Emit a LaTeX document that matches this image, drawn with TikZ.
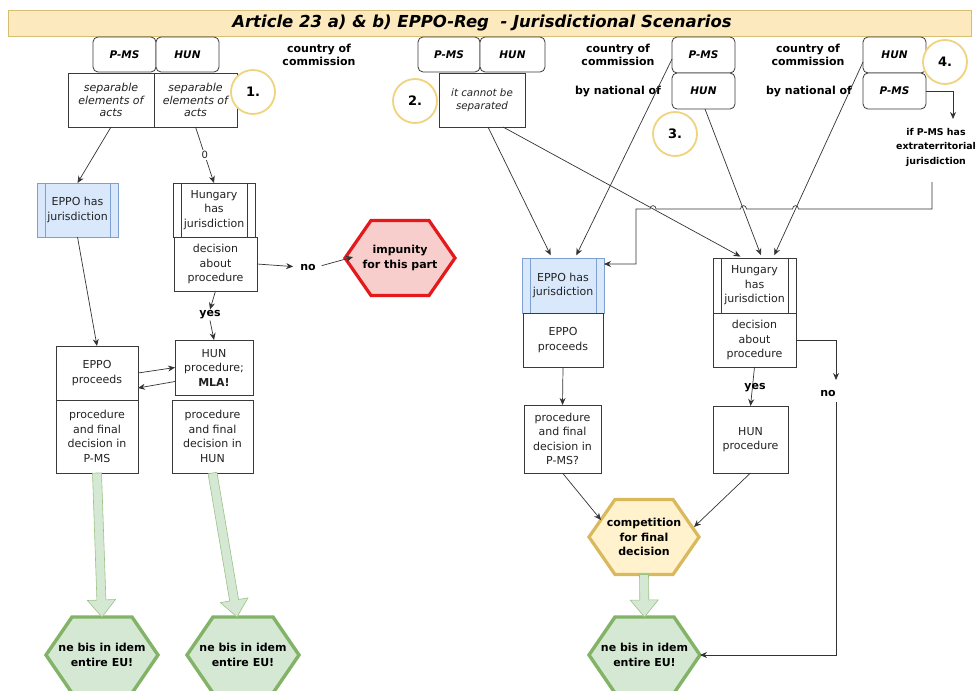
\documentclass[tikz,border=0pt]{standalone}
\usepackage{fontspec}
\setmainfont{DejaVu Sans}
\usetikzlibrary{arrows.meta,calc,backgrounds}
\definecolor{boxc}{HTML}{3A3A3A}
\definecolor{linec}{HTML}{333333}
\definecolor{txt}{HTML}{222222}
\definecolor{bluef}{HTML}{DAE8FC}
\definecolor{blueb}{HTML}{7EA0D0}
\definecolor{redf}{HTML}{F8CECC}
\definecolor{redb}{HTML}{E3191C}
\definecolor{goldf}{HTML}{FFF2CC}
\definecolor{goldb}{HTML}{D9B95C}
\definecolor{greenf}{HTML}{D5E8D4}
\definecolor{greenb}{HTML}{82B366}
\definecolor{circc}{HTML}{F0D37E}
\definecolor{titlef}{HTML}{FCE9BE}
\definecolor{titleb}{HTML}{D8BE72}
\newcommand\blockarr[2]{%
  \coordinate (bah) at ($(#2)!17pt!(#1)$);
  \draw[blk] ($(#1)!4.5pt!90:(#2)$) -- ($(bah)!4.5pt!90:(#2)$) -- ($(bah)!14pt!90:(#2)$) -- (#2)
    -- ($(bah)!14pt!-90:(#2)$) -- ($(bah)!4.5pt!-90:(#2)$) -- ($(#1)!4.5pt!-90:(#2)$) -- cycle;}
\begin{document}
\begin{tikzpicture}[x=1pt,y=-1pt,
  box/.style={draw=boxc, line width=0.8pt, fill=white, align=center, inner sep=0pt, outer sep=0pt,
    text=txt, font=\fontsize{11}{14.5}\selectfont},
  tab/.style={box, rounded corners=5pt, text=black, font=\fontsize{10.5}{13}\selectfont\bfseries\itshape},
  proc/.style={box, path picture={\draw[#1, line width=0.8pt]
      ([xshift=8pt]path picture bounding box.north west) -- ([xshift=8pt]path picture bounding box.south west)
      ([xshift=-8pt]path picture bounding box.north east) -- ([xshift=-8pt]path picture bounding box.south east);}},
  proc/.default=boxc,
  bluep/.style={proc=blueb, draw=blueb, fill=bluef},
  ital/.style={font=\fontsize{11}{12.5}\selectfont\itshape},
  lbl/.style={inner sep=1pt, align=center, text=black, font=\fontsize{11}{13.5}\selectfont\bfseries},
  num/.style={circle, draw=circc, line width=1.8pt, fill=white, minimum size=44pt, inner sep=0pt,
    text=black, font=\fontsize{13}{14}\selectfont\bfseries},
  hexn/.style={inner sep=0pt, outer sep=0pt, align=center, text=black, font=\fontsize{11}{14.5}\selectfont\bfseries},
  arr/.style={draw=linec, line width=0.7pt, -{Stealth[length=7pt,width=6pt]}},
  ln/.style={draw=linec, line width=0.7pt},
  blk/.style={draw=greenb!80, line width=0.6pt, fill=greenf},
  hexgreen/.style={draw=greenb, line width=3.4pt, fill=greenf, line join=miter},
  hexred/.style={draw=redb, line width=3.2pt, fill=redf, line join=miter},
  hexgold/.style={draw=goldb, line width=3.2pt, fill=goldf, line join=miter}
]
\useasboundingbox (0,0) rectangle (976,690);

% title
\node[draw=titleb, line width=0.6pt, fill=titlef, minimum width=963pt, minimum height=26pt, inner sep=0pt] (bar) at (489.5,23) {};
\node[inner sep=0pt, text=black, font=\fontsize{16.5}{18}\selectfont\bfseries\itshape] (ttl) at (482,23) {Article 23 a) \& b) EPPO-Reg\ \ - Jurisdictional Scenarios};

% ---------- left scenario ----------
\node[tab, minimum width=63pt, minimum height=35pt] (lpms) at (124.5,54.5) {P-MS};
\node[tab, minimum width=63pt, minimum height=35pt] (lhun) at (187.5,54.5) {HUN};
\node[lbl] (lcc) at (319,55) {country of\\commission};
\node[box, ital, minimum width=86pt, minimum height=54pt] (lsep1) at (111,100) {separable\\elements of\\acts};
\node[box, ital, minimum width=83pt, minimum height=54pt] (lsep2) at (195.5,100) {separable\\elements of\\acts};
\node[num] (c1) at (253,92) {1.};

\node[bluep, minimum width=81pt, minimum height=54pt] (lejur) at (77.5,210) {EPPO has\\jurisdiction};
\node[proc, minimum width=82pt, minimum height=54pt] (lhjur) at (214,210) {Hungary\\has\\jurisdiction};
\node[box, minimum width=83pt, minimum height=54pt] (ldec) at (215.5,264) {decision\\about\\procedure};
\node[lbl] (lno) at (308,267) {no};
\node[hexn, minimum width=110pt, minimum height=75pt] (limp) at (400,258) {impunity\\for this part};
\node[lbl] (lyes) at (210,315) {yes};
\node[box, minimum width=78pt, minimum height=55pt] (lhunp) at (214,367.5) {HUN\\procedure;\\\textbf{MLA!}};
\node[box, minimum width=82pt, minimum height=54pt] (lepp) at (97,373) {EPPO\\proceeds};
\node[box, minimum width=82pt, minimum height=73pt] (lppms) at (97,436.5) {procedure\\and final\\decision in\\P-MS};
\node[box, minimum width=81pt, minimum height=73pt] (lphun) at (212.5,436.5) {procedure\\and final\\decision in\\HUN};
\node[hexn, minimum width=112pt, minimum height=76pt] (lnb1) at (102,655) {ne bis in idem\\entire EU!};
\node[hexn, minimum width=112pt, minimum height=76pt] (lnb2) at (243,655) {ne bis in idem\\entire EU!};

\draw[arr] (lsep1.south) -- (lejur.north);
\draw[arr] (lsep2.south) -- node[fill=white, inner sep=1pt, text=txt, font=\fontsize{10}{12}\selectfont] (lzero) {0} (lhjur.north);
\draw[arr] (lejur.south) -- (lepp.north);
\draw[arr] (ldec.south) -- (lyes.north);
\draw[arr] (lyes.south) -- (lhunp.north);
\draw[arr, shorten >=6pt] (ldec.east) -- (lno.west);
\coordinate (limpin) at ($(limp.west)+(8,-1)$);
\draw[arr, shorten <=5pt] (lno.east) -- (limpin);
\draw[arr] (lepp.east) -- (lhunp.west);
\coordinate (lhunpout) at ($(lhunp.west)+(0,14)$);
\coordinate (leppin) at ($(lepp.east)+(0,15)$);
\draw[arr] (lhunpout) -- (leppin);
\coordinate (lnb2in) at ($(lnb2.north)+(-6,0)$);
\blockarr{lppms.south}{lnb1.north}
\blockarr{lphun.south}{lnb2in}

% ---------- right scenarios ----------
\node[tab, minimum width=62pt, minimum height=35pt] (rpms) at (449,54.5) {P-MS};
\node[tab, minimum width=65pt, minimum height=35pt] (rhun) at (512.5,54.5) {HUN};
\node[box, minimum width=86pt, minimum height=54pt, font=\fontsize{10.3}{12.5}\selectfont\itshape] (rsep) at (482,100) {it cannot be\\separated};
\node[num] (c2) at (415,101) {2.};

\node[lbl] (rcc1) at (618,55) {country of\\commission};
\node[lbl] (rbn1) at (618,92) {by national of};
\node[tab, minimum width=63pt, minimum height=36pt] (r3pms) at (703.5,55) {P-MS};
\node[tab, minimum width=63pt, minimum height=36pt] (r3hun) at (703.5,91) {HUN};
\node[num] (c3) at (675,134) {3.};

\node[lbl] (rcc2) at (808,55) {country of\\commission};
\node[lbl] (rbn2) at (809,92) {by national of};
\node[tab, minimum width=63pt, minimum height=36pt] (r4hun) at (894.5,55) {HUN};
\node[tab, minimum width=63pt, minimum height=36pt] (r4pms) at (894.5,91) {P-MS};
\node[num] (c4) at (945,62) {4.};
\node[lbl, font=\fontsize{9.4}{14.5}\selectfont\bfseries] (rext) at (936,147) {if P-MS has\\extraterritorial\\jurisdiction};

\node[bluep, minimum width=82pt, minimum height=55pt] (rejur) at (563,285.5) {EPPO has\\jurisdiction};
\node[box, minimum width=80pt, minimum height=54pt] (repp) at (563,340) {EPPO\\proceeds};
\node[box, minimum width=77pt, minimum height=68pt] (rppms) at (562.5,439) {procedure\\and final\\decision in\\P-MS?};
\node[proc, minimum width=83pt, minimum height=55pt] (rhjur) at (754.5,285.5) {Hungary\\has\\jurisdiction};
\node[box, minimum width=83pt, minimum height=54pt] (rdec) at (754.5,340) {decision\\about\\procedure};
\node[box, minimum width=75pt, minimum height=67pt] (rhunp) at (750.5,439.5) {HUN\\procedure};
\node[hexn, minimum width=110pt, minimum height=75pt] (rcomp) at (644,537) {competition\\for final\\decision};
\node[hexn, minimum width=111pt, minimum height=76pt] (rnb) at (644.5,655) {ne bis in idem\\entire EU!};

% connectors into the two jurisdiction boxes
\coordinate (rsepa) at ($(rsep.south)+(6,0)$);
\coordinate (rsepb) at ($(rsep.south)+(21,0)$);
\coordinate (rejin1) at ($(rejur.north)+(-11,0)$);
\coordinate (rejin2) at ($(rejur.north)+(12,0)$);
\coordinate (rhjin1) at ($(rhjur.north)+(-11.5,0)$);
\coordinate (rhjin2) at ($(rhjur.north)+(7.5,0)$);
\coordinate (rhjin3) at ($(rhjur.north)+(18.5,0)$);
\coordinate (r3out) at ($(r3pms.west)+(0,4)$);
\coordinate (r3hout) at ($(r3hun.south)+(1.5,0)$);
\coordinate (r4out) at ($(r4hun.west)+(0,7)$);
\draw[arr, shorten >=3pt] (rsepa) -- (rejin1);
\draw[arr, shorten >=3pt] (rsepb) -- (rhjin1);
\draw[arr, shorten >=3pt] (r3out) -- (rejin2);
\draw[arr, shorten >=3pt] (r3hout) -- (rhjin2);
\draw[arr, shorten >=3pt] (r4out) -- (rhjin3);

% scenario 4 extraterritorial branch
\coordinate (rextin) at (953,119);
\draw[arr] (r4pms.east) -| (rextin);
\coordinate (rextout) at (932,182);
\coordinate (rejin3) at ($(rejur.north east)+(0,6)$);
\draw[arr] (rextout) -- (932,209) -- (798.5,209) .. controls (798.5,204.5) and (792.5,204.5) .. (792.5,209)
  -- (746.5,209) .. controls (746.5,204.5) and (740.5,204.5) .. (740.5,209)
  -- (656,209) .. controls (656,204.5) and (650,204.5) .. (650,209)
  -- (636,209) -- (636,264) -- (rejin3);

% below the jurisdiction boxes
\draw[arr] (repp.south) -- (rppms.north);
\draw[arr] (rdec.south) -- (rhunp.north);
\node[lbl] (ryes) at (755,388) {yes};
\coordinate (rnoin) at (836,380);
\coordinate (rnoout) at (836,402);
\draw[arr] (rdec.east) -| (rnoin);
\node[lbl] (rno) at (828,393) {no};
\draw[arr] (rnoout) |- (rnb.east);
\coordinate (rcompin1) at ($(rcomp.center)+(-43,-17)$);
\coordinate (rcompin2) at ($(rcomp.center)+(50,-10)$);
\draw[arr] (rppms.south) -- (rcompin1);
\draw[arr] (rhunp.south) -- (rcompin2);
\blockarr{rcomp.south}{rnb.north}

% hexagon outlines behind their texts
\begin{scope}[on background layer]
  \fill[white] (0,0) rectangle (976,690);
  \foreach \n/\s in {lnb1/hexgreen, lnb2/hexgreen, rnb/hexgreen, limp/hexred, rcomp/hexgold}{
    \draw[\s] (\n.west) -- ($(\n.north west)+(26,0)$) -- ($(\n.north east)+(-26,0)$) -- (\n.east)
      -- ($(\n.south east)+(-26,0)$) -- ($(\n.south west)+(26,0)$) -- cycle;
  }
\end{scope}
\end{tikzpicture}
\end{document}
